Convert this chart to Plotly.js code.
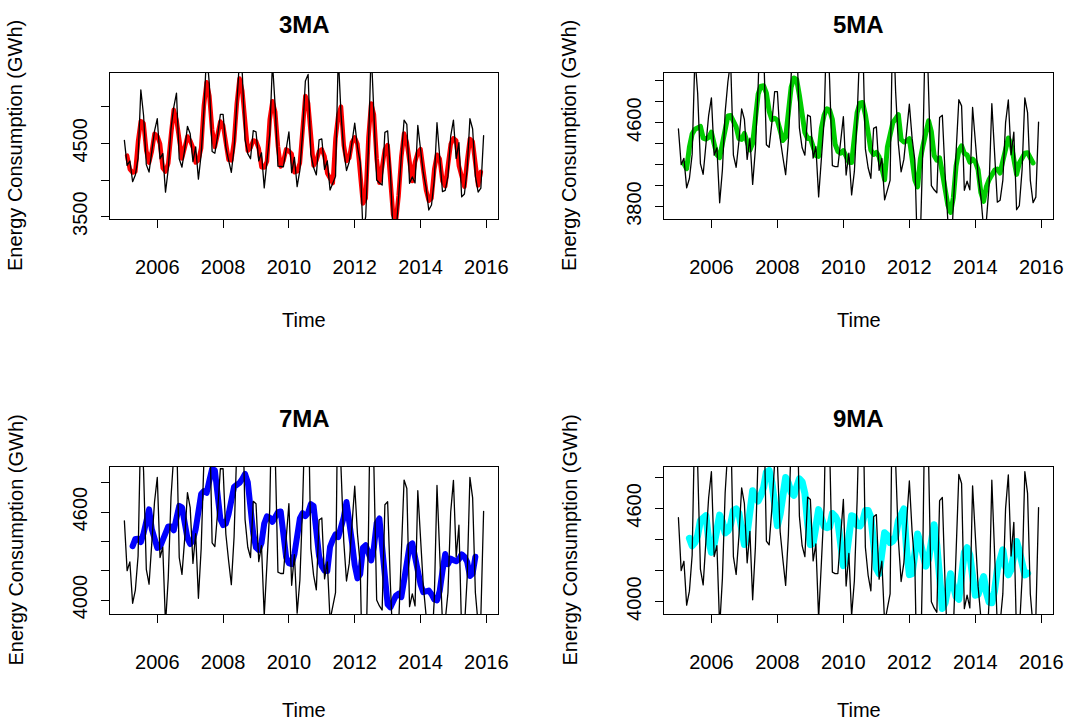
<!DOCTYPE html>
<html><head><meta charset="utf-8">
<script src="https://cdn.plot.ly/plotly-3.0.1.min.js"></script>
<style>html,body{margin:0;padding:0;background:#fff}#chart{width:1071px;height:722px}
.scatterlayer path.js-line{stroke-linejoin:round;stroke-linecap:round}</style>
</head><body><div id="chart"></div>
<script>
// Monthly energy consumption (GWh), Jan 2005 - Dec 2015
const startYear = 2005;
const energy = [4540,4200,4260,3978,4068,4300,5230,4880,4210,4108,4390,4670,
 4836,4290,4360,3836,4150,4700,4990,5185,4290,4175,4420,4732,
 4630,4250,4452,4012,4350,4950,5750,5300,4390,4365,4600,4895,
 4895,4450,4270,4105,4430,5050,5650,5450,4550,4360,4290,4673,
 4657,4262,4371,3893,4250,4620,5600,5000,4190,4181,4181,4420,
 4657,4101,4310,3911,4135,4650,5350,5440,4350,4170,4070,4546,
 4560,4145,4260,3864,3960,4050,5700,4900,4400,4130,4250,4520,
 4776,4450,4240,3300,3500,4450,5780,4900,4000,3960,3932,4650,
 4670,4110,3250,3220,3820,4320,4818,4760,3955,4042,3960,4745,
 4420,4100,3900,3592,3660,4000,4781,4250,3842,3860,4050,4600,
 4816,4294,4510,3770,3810,4150,4836,4696,4050,3837,3890,4605];

// Centred moving averages (first value at month index 1, 2, 3, 4)
const ma3Values = [4333,4146,4102,4115,4533,4803,4773,4399,4236,4389,4632,4599,4495,4162,4115,4229,4613,4958,4822,4550,
 4295,4442,4594,4537,4444,4238,4271,4437,5017,5333,5147,4685,4452,4620,4797,4747,4538,4275,4268,4528,
 5043,5383,5217,4787,4400,4441,4540,4531,4430,4175,4171,4254,4823,5073,4930,4457,4184,4261,4419,4393,
 4356,4107,4119,4232,4712,5147,5047,4653,4197,4262,4392,4417,4322,4090,4028,3958,4570,4883,5000,4477,
 4260,4300,4515,4582,4489,3997,3680,3750,4577,5043,4893,4287,3964,4181,4417,4477,4010,3527,3430,3787,
 4319,4633,4511,4252,3986,4249,4375,4422,4140,3864,3717,3751,4147,4344,4291,3984,3917,4170,4488,4570,
 4540,4191,4030,3910,4265,4561,4527,4194,3926,4111];
const ma5Values = [4209,4161,4367,4491,4538,4546,4564,4452,4443,4459,4509,4398,4294,4267,4407,4572,4663,4668,4612,4560,
 4449,4441,4497,4415,4339,4403,4703,4872,4948,4951,4881,4710,4629,4641,4622,4523,4430,4461,4701,4937,
 5026,5012,4860,4665,4506,4448,4451,4371,4287,4279,4547,4673,4732,4718,4630,4394,4326,4308,4334,4280,
 4223,4221,4471,4697,4785,4792,4676,4515,4339,4298,4316,4275,4158,4056,4367,4495,4602,4636,4676,4440,
 4415,4425,4447,4257,4053,3988,4254,4386,4526,4618,4514,4288,4242,4264,4122,3980,3814,3744,3886,4188,
 4335,4379,4307,4292,4224,4253,4225,4151,3934,3850,3987,4057,4107,4147,4157,4120,4234,4324,4454,4398,
 4240,4107,4215,4252,4308,4314,4262,4216];
const ma7Values = [4368,4417,4418,4396,4455,4541,4618,4483,4409,4356,4362,4406,4452,4502,4502,4475,4559,4642,4632,4526,
 4421,4382,4407,4482,4628,4723,4743,4731,4815,4893,4885,4699,4552,4511,4521,4585,4693,4772,4786,4799,
 4826,4860,4804,4606,4452,4358,4342,4389,4522,4571,4561,4533,4575,4599,4604,4390,4291,4252,4245,4312,
 4445,4557,4592,4572,4595,4654,4641,4469,4300,4231,4201,4198,4363,4411,4448,4429,4484,4564,4668,4489,
 4395,4238,4148,4177,4357,4374,4310,4270,4360,4525,4556,4317,4082,3970,3950,4006,4030,4043,4020,4134,
 4239,4371,4386,4283,4160,4108,4054,4060,4065,4040,4004,3998,4063,4198,4314,4245,4282,4272,4265,4278,
 4312,4295,4260,4164,4181,4295];
const ma9Values = [4407,4359,4380,4426,4521,4546,4553,4398,4317,4371,4469,4557,4515,4442,4456,4498,4586,4597,4569,4461,
 4368,4441,4616,4714,4676,4647,4685,4735,4833,4844,4768,4586,4489,4562,4705,4799,4761,4702,4684,4729,
 4790,4771,4696,4501,4367,4375,4513,4592,4538,4485,4476,4482,4567,4550,4516,4328,4232,4283,4413,4553,
 4545,4491,4487,4514,4586,4587,4543,4378,4214,4181,4351,4443,4427,4379,4390,4419,4521,4575,4596,4330,
 4174,4180,4363,4435,4377,4287,4229,4275,4427,4495,4361,4077,3957,3992,4088,4180,4103,4033,4016,4182,
 4316,4347,4300,4164,4042,4047,4129,4161,4061,3998,3993,4071,4207,4277,4334,4222,4173,4207,4315,4387,
 4326,4217,4172,4183];

const panelTitles = ["3MA","5MA","7MA","9MA"];
const maSeries = [ma3Values, ma5Values, ma7Values, ma9Values];
const maFirstMonth = [1,2,3,4];
const maColors = ["#FF0000","#00CD00","#0000FF","#00FFFF"];
const xTickVals = [2006,2008,2010,2012,2014,2016];
const yTickVals = [[3500,4000,4500,5000],[3800,4000,4200,4400,4600,4800,5000],[4000,4200,4400,4600,4800],[4000,4200,4400,4600,4800]];
const yTickText = [["3500","","4500",""],["3800","","","","4600","",""],["4000","","","4600",""],["4000","","","4600",""]];

const time = energy.map((v,i)=>startYear + i/12);

const W=1071,H=722;
const boxes=[[110,498,72.7,219.3],[664,1053,72.7,219.3],[110,498,466.7,614.3],[664,1053,466.7,614.3]];
const yRanges=[[3465,5463],[3679,5076],[3903,4909],[3919,4868]];
const maWidths=[4.5,5,6,7];
const FONT="Liberation Sans, Arial, sans-serif";
const traces=[];
const layout={width:W,height:H,margin:{l:0,r:0,t:0,b:0},paper_bgcolor:"#fff",plot_bgcolor:"#fff",showlegend:false,annotations:[]};
boxes.forEach((b,k)=>{
  const s=k===0?"":String(k+1);
  const ma=maSeries[k];
  traces.push({x:time.slice(maFirstMonth[k],maFirstMonth[k]+ma.length),y:ma,type:"scatter",mode:"lines",line:{color:maColors[k],width:maWidths[k]},xaxis:"x"+s,yaxis:"y"+s,hoverinfo:"skip"});
  traces.push({x:time,y:energy,type:"scatter",mode:"lines",line:{color:"#000",width:1.3},xaxis:"x"+s,yaxis:"y"+s,hoverinfo:"skip"});
  const common={showgrid:false,zeroline:false,showline:true,linecolor:"#000",linewidth:1,mirror:true,ticks:"outside",ticklen:8,tickcolor:"#000",tickfont:{family:FONT,size:20,color:"#000"}};
  layout["xaxis"+s]=Object.assign({},common,{domain:[b[0]/W,b[1]/W],range:[2004.563,2016.354],tickvals:xTickVals,ticktext:xTickVals.map(String),anchor:"y"+s,ticklabelstandoff:22});
  layout["yaxis"+s]=Object.assign({},common,{domain:[1-b[3]/H,1-b[2]/H],range:yRanges[k],tickvals:yTickVals[k],ticktext:yTickText[k],tickangle:-90,anchor:"x"+s,ticklabelstandoff:6});
  const cx=(b[0]+b[1])/2;
  layout.annotations.push({text:"<b>"+panelTitles[k]+"</b>",xref:"paper",yref:"paper",x:cx/W,y:1-(b[2]-48)/H,xanchor:"center",yanchor:"middle",showarrow:false,font:{family:FONT,size:24,color:"#000"}});
  const ty=Math.min(b[3]+101,710);
  layout.annotations.push({text:"Time",xref:"paper",yref:"paper",x:cx/W,y:1-ty/H,xanchor:"center",yanchor:"middle",showarrow:false,font:{family:FONT,size:20,color:"#000"}});
  layout.annotations.push({text:"Energy Consumption (GWh)",xref:"paper",yref:"paper",x:(b[0]-95)/W,y:1-((b[2]+b[3])/2)/H,xanchor:"center",yanchor:"middle",textangle:-90,showarrow:false,font:{family:FONT,size:20,color:"#000"}});
});
Plotly.newPlot("chart",traces,layout,{staticPlot:true,displayModeBar:false});
</script></body></html>
